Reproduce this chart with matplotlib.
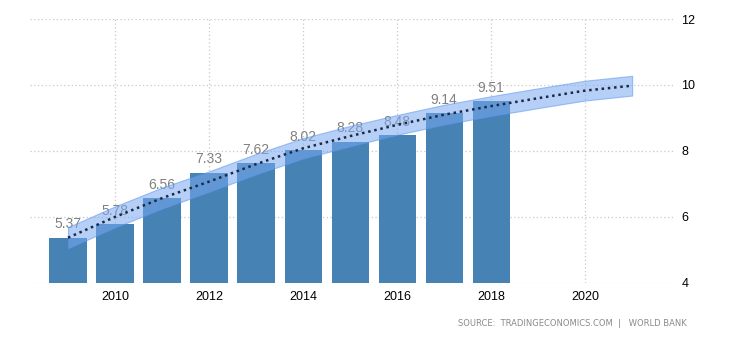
import matplotlib.pyplot as plt
import numpy as np

plt.rcParams["font.family"] = ["Liberation Sans", "DejaVu Sans"]

years = [2009, 2010, 2011, 2012, 2013, 2014, 2015, 2016, 2017, 2018]
values = [5.37, 5.78, 6.56, 7.33, 7.62, 8.02, 8.28, 8.48, 9.14, 9.51]

trend_years = [2009, 2010, 2011, 2012, 2013, 2014, 2015, 2016, 2017, 2018, 2019, 2020, 2021]
trend_vals = [5.37, 6.00, 6.57, 7.07, 7.60, 8.08, 8.45, 8.79, 9.10, 9.36, 9.60, 9.83, 9.98]
band_half = [0.32, 0.32, 0.32, 0.31, 0.31, 0.31, 0.31, 0.30, 0.30, 0.30, 0.30, 0.30, 0.30]

xticks = [2010, 2012, 2014, 2016, 2018, 2020]
yticks = [4, 6, 8, 10, 12]

fig = plt.figure(figsize=(7.3, 3.4), dpi=100)
ax = fig.add_axes([0.041, 0.168, 0.881, 0.776])

ax.bar(years, values, width=0.79, color="#4682b4", zorder=2)
for x, v in zip(years, values):
    ax.text(x, v + 0.2, f"{v:.2f}", ha="center", va="bottom",
            fontsize=10, color="#808080", zorder=2.5)

ty = np.array(trend_vals)
hb = np.array(band_half)
ax.fill_between(trend_years, ty - hb, ty + hb, color="#7aa9f2", alpha=0.55,
                edgecolor="#5b95ee", linewidth=0.8, zorder=3)
ax.plot(trend_years, trend_vals, linestyle=(0, (1, 1.5)), color="#1b2a44",
        linewidth=1.8, zorder=4)

ax.set_xlim(2008.19, 2021.87)
ax.set_ylim(4, 12)
ax.set_xticks(xticks)
ax.set_yticks(yticks)
ax.yaxis.tick_right()
ax.tick_params(length=0, labelsize=9, colors="black")
ax.tick_params(axis="y", pad=6)
ax.tick_params(axis="x", pad=6)
ax.grid(True, linestyle=(0, (1, 2)), color="#c8c8c8", linewidth=0.9, zorder=0)
ax.set_axisbelow(True)
for s in ax.spines.values():
    s.set_visible(False)

fig.text(0.941, 0.048, "SOURCE:  TRADINGECONOMICS.COM  |   WORLD BANK",
         ha="right", va="center", fontsize=6, color="#8a8a8a",
         family="DejaVu Sans")

fig.savefig("out.png", dpi=100)
